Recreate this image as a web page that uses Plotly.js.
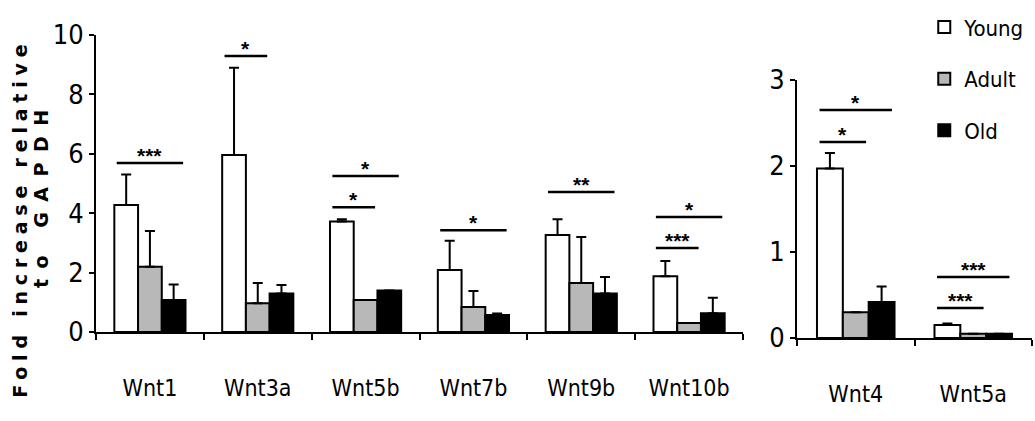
<!DOCTYPE html>
<html>
<head>
<meta charset="utf-8">
<script src="https://cdn.plot.ly/plotly-3.0.1.min.js"></script>
<style>
html,body{margin:0;padding:0;background:#fff;}
#chart{width:1035px;height:421px;}
</style>
</head>
<body>
<div id="chart"></div>
<script>
// ---- data ----
const genesLeft = ['Wnt1', 'Wnt3a', 'Wnt5b', 'Wnt7b', 'Wnt9b', 'Wnt10b'];
const youngLeft = [4.28, 5.96, 3.72, 2.09, 3.27, 1.88];
const youngLeftErr = [1.02, 2.94, 0.08, 0.98, 0.53, 0.51];
const adultLeft = [2.2, 0.97, 1.08, 0.84, 1.65, 0.3];
const adultLeftErr = [1.2, 0.68, 0, 0.54, 1.55, 0];
const oldLeft = [1.08, 1.3, 1.4, 0.57, 1.3, 0.63];
const oldLeftErr = [0.52, 0.28, 0, 0.05, 0.55, 0.52];

const genesRight = ['Wnt4', 'Wnt5a'];
const youngRight = [1.97, 0.15];
const youngRightErr = [0.18, 0.02];
const adultRight = [0.3, 0.05];
const adultRightErr = [0, 0];
const oldRight = [0.42, 0.05];
const oldRightErr = [0.18, 0];

const groupNames = ['Young', 'Adult', 'Old'];
const yTitleLines = ['Fold increase relative', 'to GAPDH'];

// significance brackets: panel, gene index, from group, to group, height, label
const sigPanel = ['L', 'L', 'L', 'L', 'L', 'L', 'L', 'L', 'R', 'R', 'R', 'R'];
const sigGene  = [0, 1, 2, 2, 3, 4, 5, 5, 0, 0, 1, 1];
const sigFrom  = [0, 0, 0, 0, 0, 0, 0, 0, 0, 0, 0, 0];
const sigTo    = [2, 1, 1, 2, 2, 2, 2, 1, 1, 2, 1, 2];
const sigY     = [5.69, 9.29, 4.2, 5.25, 3.43, 4.71, 3.87, 2.83, 2.28, 2.65, 0.35, 0.71];
const sigLabel = ['***', '*', '*', '*', '*', '**', '*', '***', '*', '*', '***', '***'];

// ---- styles ----
const narrow = 'Liberation Sans Narrow, DejaVu Sans Condensed, Arial Narrow, sans-serif';
const fills = ['#ffffff', '#b8b8b8', '#000000'];
const BARGAP = 0.34;

function barTrace(name, x, y, err, idx, xa, ya, showleg) {
  return {
    type: 'bar', name: name, x: x, y: y,
    xaxis: xa, yaxis: ya,
    legendgroup: name, showlegend: showleg,
    marker: {color: fills[idx], line: {color: '#000', width: 2}},
    error_y: {type: 'data', array: err, arrayminus: err.map(() => 0), symmetric: false,
              color: '#000', thickness: 2, width: 5, visible: true}
  };
}

const traces = [
  barTrace(groupNames[0], genesLeft, youngLeft, youngLeftErr, 0, 'x', 'y', true),
  barTrace(groupNames[1], genesLeft, adultLeft, adultLeftErr, 1, 'x', 'y', true),
  barTrace(groupNames[2], genesLeft, oldLeft, oldLeftErr, 2, 'x', 'y', true),
  barTrace(groupNames[0], genesRight, youngRight, youngRightErr, 0, 'x2', 'y2', false),
  barTrace(groupNames[1], genesRight, adultRight, adultRightErr, 1, 'x2', 'y2', false),
  barTrace(groupNames[2], genesRight, oldRight, oldRightErr, 2, 'x2', 'y2', false)
];

// bar offsets within a category
const barW = (1 - BARGAP) / 3;
function offsetOf(g) { return (g - 1) * barW; }

const shapes = [];
const annotations = [];
for (let i = 0; i < sigGene.length; i++) {
  const xr = sigPanel[i] === 'L' ? 'x' : 'x2';
  const yr = sigPanel[i] === 'L' ? 'y' : 'y2';
  const x0 = sigGene[i] + offsetOf(sigFrom[i]) - barW * 0.4;
  const x1 = sigGene[i] + offsetOf(sigTo[i]) + barW * 0.4;
  shapes.push({type: 'line', xref: xr, yref: yr, x0: x0, x1: x1, y0: sigY[i], y1: sigY[i],
               line: {color: '#000', width: 2.5}});
  annotations.push({xref: xr, yref: yr, x: (x0 + x1) / 2, y: sigY[i], text: '<b>' + sigLabel[i] + '</b>',
                    showarrow: false, yanchor: 'bottom', yshift: -6,
                    font: {family: 'Liberation Sans, Arial, sans-serif', size: 21, color: '#000'}});
}
// y-axis title, two lines placed separately
const titlePos = [[20, 218], [41, 194]];
yTitleLines.forEach(function (line, k) {
  annotations.push({
    xref: 'paper', yref: 'paper', x: titlePos[k][0] / 1035, y: (421 - titlePos[k][1]) / 421,
    xanchor: 'center', yanchor: 'middle', textangle: -90, showarrow: false,
    text: '<b>' + line + '</b>',
    font: {family: 'DejaVu Sans, sans-serif', size: 19, color: '#000'}
  });
});

const axBase = {
  showline: true, linecolor: '#000', linewidth: 2, ticks: 'outside', tickcolor: '#000',
  tickwidth: 2, showgrid: false, zeroline: false
};

const layout = {
  width: 1035, height: 421,
  margin: {l: 0, r: 0, t: 0, b: 0},
  paper_bgcolor: '#fff', plot_bgcolor: '#fff',
  barmode: 'group', bargap: BARGAP, bargroupgap: 0,
  showlegend: true,
  legend: {x: 0.893, y: 0.985, xanchor: 'left', yanchor: 'top', tracegroupgap: 20,
           font: {family: narrow, size: 22, color: '#000'}, bgcolor: 'rgba(0,0,0,0)'},
  xaxis: Object.assign({}, axBase, {domain: [96 / 1035, 743 / 1035], type: 'category',
          tickson: 'boundaries', ticklen: 6, anchor: 'y', ticklabelstandoff: 34,
          tickfont: {family: narrow, size: 23, color: '#000'}}),
  yaxis: Object.assign({}, axBase, {domain: [(421 - 332) / 421, (421 - 35) / 421], range: [0, 10],
          tickvals: [0, 2, 4, 6, 8, 10], ticklen: 5, anchor: 'x',
          tickfont: {family: narrow, size: 27, color: '#000'}}),
  xaxis2: Object.assign({}, axBase, {domain: [797 / 1035, 1032 / 1035], type: 'category',
          tickson: 'boundaries', ticklen: 6, anchor: 'y2', ticklabelstandoff: 34,
          tickfont: {family: narrow, size: 23, color: '#000'}}),
  yaxis2: Object.assign({}, axBase, {domain: [(421 - 338) / 421, (421 - 80) / 421], range: [0, 3],
          tickvals: [0, 1, 2, 3], ticklen: 5, anchor: 'x2',
          tickfont: {family: narrow, size: 27, color: '#000'}}),
  shapes: shapes,
  annotations: annotations
};

const spacing = {'Fold increase relative': '5.8px', 'to GAPDH': '10.5px'};
Plotly.newPlot('chart', traces, layout, {displayModeBar: false, staticPlot: true}).then(function () {
  document.querySelectorAll('.annotation-text').forEach(function (t) {
    const s = spacing[t.textContent];
    if (s) { t.style.letterSpacing = s; }
  });
});
</script>
</body>
</html>
